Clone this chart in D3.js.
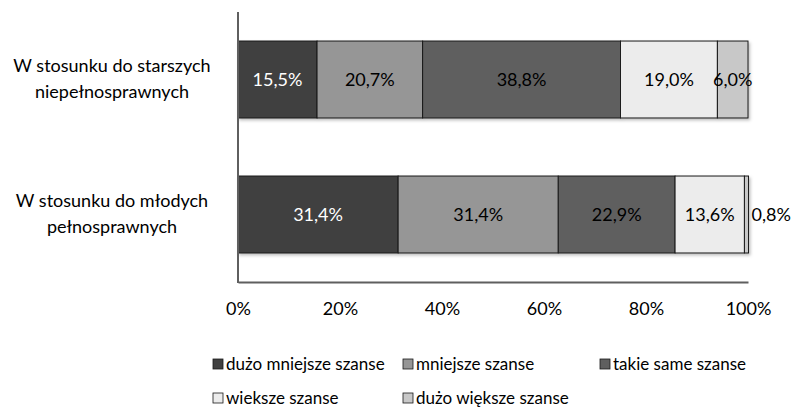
<!DOCTYPE html>
<html>
<head>
    <meta charset="utf-8">
    <title>Szanse</title>
    <style>
        body { margin: 0; background: #fff; }
        text { font-family: Lato, 'Open Sans', sans-serif; font-size: 18px; }
    </style>
    <script src="https://d3js.org/d3.v7.min.js"></script>
</head>
<body>

<script type="text/javascript">

    // data
    var categories = ['W stosunku do starszych niepełnosprawnych', 'W stosunku do młodych pełnosprawnych'];
    var categoryLines = [['W stosunku do starszych', 'niepełnosprawnych'], ['W stosunku do młodych', 'pełnosprawnych']];
    var series = ['dużo mniejsze szanse', 'mniejsze szanse', 'takie same szanse', 'wieksze szanse', 'dużo większe szanse'];
    var starsiValues = [15.5, 20.7, 38.8, 19.0, 6.0];
    var mlodziValues = [31.4, 31.4, 22.9, 13.6, 0.8];
    var tickValues = [0, 20, 40, 60, 80, 100];
    var colors = ['#404040', '#969696', '#5f5f5f', '#ececec', '#c8c8c8'];
    var labelColors = ['#fff', '#000', '#000', '#000', '#000'];

    var values = [starsiValues, mlodziValues];

    var svg = d3.select('body')
                    .append('svg')
                    .attr('width', 794)
                    .attr('height', 410);

    var defs = svg.append('defs');
    defs.append('filter')
        .attr('id', 'shadow')
        .attr('x', '-5%').attr('y', '-10%')
        .attr('width', '110%').attr('height', '130%')
        .append('feDropShadow')
        .attr('dx', 1.5).attr('dy', 2)
        .attr('stdDeviation', 1.5)
        .attr('flood-color', '#000')
        .attr('flood-opacity', 0.25);

    var x = d3.scaleLinear().domain([0, 100]).range([238, 748]);
    var y = d3.scaleBand().domain(categories).range([12, 282])
                .paddingInner(0.43).paddingOuter(0.215);

    // stacked segments
    var segs = [];
    values.forEach(function(row, i) {
        var acc = 0;
        row.forEach(function(v, j) {
            segs.push({cat: categories[i], s: j, x0: acc, x1: acc + v, v: v});
            acc += v;
        });
    });

    var bars = svg.append('g').attr('filter', 'url(#shadow)');
    bars.selectAll('rect')
        .data(segs)
        .enter()
        .append('rect')
        .attr('x', function(d) { return x(d.x0); })
        .attr('y', function(d) { return y(d.cat); })
        .attr('width', function(d) { return x(d.x1) - x(d.x0); })
        .attr('height', y.bandwidth())
        .style('fill', function(d) { return colors[d.s]; })
        .style('stroke', '#1a1a1a')
        .style('stroke-width', 1);

    svg.append('g').selectAll('text')
        .data(segs)
        .enter()
        .append('text')
        .attr('x', function(d) {
            var w = x(d.x1) - x(d.x0);
            return w < 10 ? x(d.x1) + 3 : (x(d.x0) + x(d.x1)) / 2;
        })
        .attr('y', function(d) { return y(d.cat) + y.bandwidth() / 2; })
        .attr('dy', '0.35em')
        .attr('text-anchor', function(d) { return (x(d.x1) - x(d.x0)) < 10 ? 'start' : 'middle'; })
        .style('fill', function(d) { return labelColors[d.s]; })
        .text(function(d) { return d.v.toFixed(1).replace('.', ',') + '%'; });

    // axes
    var xAxis = d3.axisBottom(x).tickValues(tickValues)
                    .tickSize(0).tickPadding(20)
                    .tickFormat(function(d) { return d + '%'; });
    var gx = svg.append('g').attr('transform', 'translate(0,282)').call(xAxis);
    gx.select('.domain').attr('stroke', '#5f5f5f').attr('stroke-width', 2);
    gx.selectAll('text').style('font-size', '18px').style('font-family', null).attr('fill', '#000');

    svg.append('line')
        .attr('x1', 238).attr('x2', 238)
        .attr('y1', 12).attr('y2', 283)
        .attr('stroke', '#5f5f5f').attr('stroke-width', 2);

    // category labels
    var cat = svg.append('g').selectAll('text')
        .data(categories)
        .enter()
        .append('text')
        .attr('text-anchor', 'middle')
        .attr('x', 112)
        .attr('y', function(d) { return y(d) + y.bandwidth() / 2 - 13.5; })
        .attr('dy', '0.35em');
    cat.each(function(d, i) {
        var t = d3.select(this);
        categoryLines[i].forEach(function(line, k) {
            t.append('tspan').attr('x', 112).attr('dy', k === 0 ? '0.35em' : '26').text(line);
        });
    });

    // legend
    var legendPos = [[213, 364], [403, 364], [600, 364], [213, 398], [403, 398]];
    var legend = svg.append('g').selectAll('g')
        .data(series)
        .enter()
        .append('g')
        .attr('transform', function(d, i) { return 'translate(' + legendPos[i][0] + ',' + legendPos[i][1] + ')'; });
    legend.append('rect')
        .attr('x', 0).attr('y', -5)
        .attr('width', 10).attr('height', 10)
        .style('fill', function(d, i) { return colors[i]; })
        .style('stroke', '#1a1a1a')
        .style('stroke-width', 0.8);
    legend.append('text')
        .attr('x', 13)
        .attr('y', 0)
        .attr('dy', '0.35em')
        .style('font-size', '17px')
        .text(function(d) { return d; });

</script>
</body>
</html>
